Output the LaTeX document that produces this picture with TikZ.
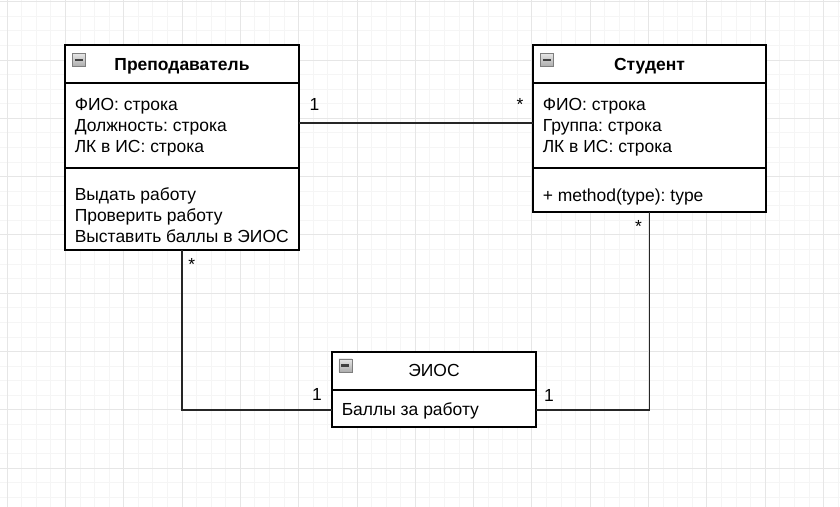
\documentclass[tikz,border=0pt]{standalone}
\usepackage{fontspec}
\setmainfont{Liberation Sans}
\usetikzlibrary{positioning, calc}
\newdimen\px
\px=0.75pt
\frenchspacing
\definecolor{gridminor}{HTML}{F5F5F5}
\definecolor{gridmajor}{HTML}{E6E6E6}
\definecolor{icongray}{HTML}{7E7E7E}
\tikzset{
    umlpart/.style={rectangle, draw=black, line width=1.1pt, fill=white,
        inner sep=0pt, outer sep=0pt, anchor=north west},
    member/.style={anchor=base west, inner sep=0pt, font=\fontsize{13.1}{15}\selectfont},
    title/.style={anchor=base, inner sep=0pt, font=\fontsize{13.1}{15}\selectfont\bfseries},
    plaintitle/.style={anchor=base, inner sep=0pt, font=\fontsize{13.1}{15}\selectfont},
    mult/.style={anchor=base, inner sep=0pt, font=\fontsize{13.1}{15}\selectfont},
    assoc/.style={line width=1.1pt, draw=black!85},
    foldicon/.style={rectangle, draw=icongray, line width=0.7pt,
        top color=gray!20, bottom color=gray!65, minimum size=13\px,
        inner sep=0pt, anchor=north west,
        path picture={\draw[line width=1.7pt, black!75]
            ([xshift=2.5\px]path picture bounding box.west) --
            ([xshift=-2.5\px]path picture bounding box.east);}}
}

\begin{document}
\begin{tikzpicture}[x=0.75pt, y=-0.75pt]
\useasboundingbox (0,0) rectangle (840,507);
% background grid
\fill[white] (0,0) rectangle (840,507);
\foreach \i in {0,...,57} {
    \draw[gridminor, line width=0.6pt] ({7+14.58*\i},0) -- ({7+14.58*\i},507);
}
\foreach \j in {0,...,34} {
    \draw[gridminor, line width=0.6pt] (0,{1.6+14.58*\j}) -- (840,{1.6+14.58*\j});
}
\foreach \i in {0,...,14} {
    \draw[gridmajor, line width=0.6pt] ({7+58.32*\i},0) -- ({7+58.32*\i},507);
}
\foreach \j in {0,...,8} {
    \draw[gridmajor, line width=0.6pt] (0,{1.6+58.32*\j}) -- (840,{1.6+58.32*\j});
}

% teacher class
\node[umlpart, minimum width=234\px, minimum height=38\px] (tHead) at (65,45) {};
\node[umlpart, minimum width=234\px, minimum height=85\px] (tAttr) at (tHead.south west) {};
\node[umlpart, minimum width=234\px, minimum height=82\px] (tOps) at (tAttr.south west) {};
\node[foldicon] (tIcon) at (72,53) {};
\node[title] (tName) at (182,70.5) {Преподаватель};
\node[member] (tA1) at (74.5,110) {ФИО: строка};
\node[member] (tA2) at (74.5,131) {Должность: строка};
\node[member] (tA3) at (74.5,152) {ЛК в ИС: строка};
\node[member] (tO1) at (74.5,200.7) {Выдать работу};
\node[member] (tO2) at (74.5,221.7) {Проверить работу};
\node[member] (tO3) at (74.5,242.5) {Выставить баллы в ЭИОС};

% student class
\node[umlpart, minimum width=233\px, minimum height=38\px] (sHead) at (533,45) {};
\node[umlpart, minimum width=233\px, minimum height=85\px] (sAttr) at (sHead.south west) {};
\node[umlpart, minimum width=233\px, minimum height=44\px] (sOps) at (sAttr.south west) {};
\node[foldicon] (sIcon) at (540,53) {};
\node[title] (sName) at (649.5,70.5) {Студент};
\node[member] (sA1) at (542.5,110) {ФИО: строка};
\node[member] (sA2) at (542.5,131) {Группа: строка};
\node[member] (sA3) at (542.5,152) {ЛК в ИС: строка};
\node[member] (sO1) at (542.5,201) {+ method(type): type};

% eios class
\node[umlpart, minimum width=204\px, minimum height=38\px] (eHead) at (332,352) {};
\node[umlpart, minimum width=204\px, minimum height=37\px] (eAttr) at (eHead.south west) {};
\node[foldicon] (eIcon) at (338.5,358.5) {};
\node[plaintitle] (eName) at (434,376.7) {ЭИОС};
\node[member] (eA1) at (341.5,415) {Баллы за работу};

% associations
\draw[assoc] ([yshift=2.5\px]tAttr.east) -- ([yshift=2.5\px]sAttr.west);
\draw[assoc] (tOps.south) |- ([yshift=-1.3\px]eAttr.west);
\draw[assoc] (sOps.south) |- ([yshift=-1.3\px]eAttr.east);

% multiplicities
\node[mult] (m1) at (314.5,110.7) {1};
\node[mult] (m2) at (520,110.7) {*};
\node[mult] (m3) at (191.7,270.5) {*};
\node[mult] (m4) at (317,400) {1};
\node[mult] (m5) at (638.5,232.5) {*};
\node[mult] (m6) at (549,401.5) {1};
\end{tikzpicture}
\end{document}
